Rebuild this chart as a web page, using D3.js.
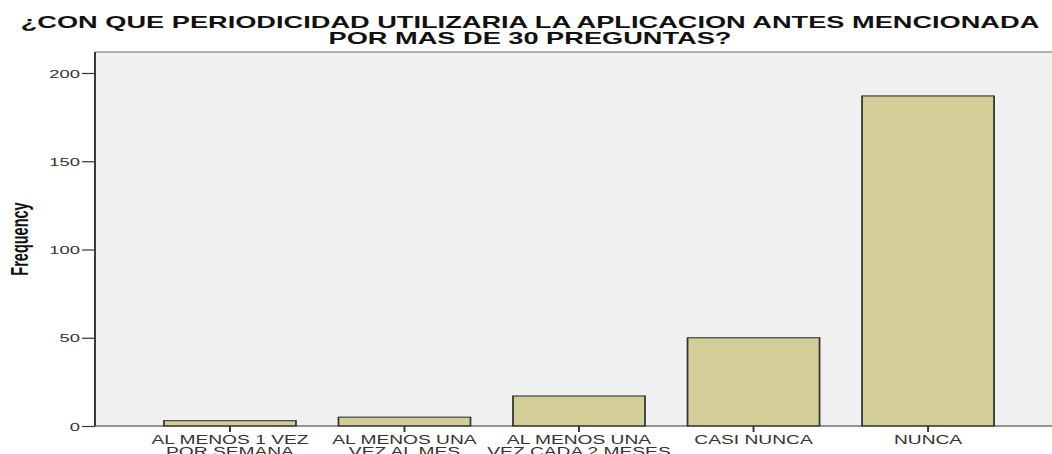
<!DOCTYPE html>
<html>
<head>
<meta charset="utf-8">
<script src="https://cdn.jsdelivr.net/npm/d3@7"></script>
<style>
    body { margin: 0; background: #fff; }
    text { font-family: "Liberation Sans", Arial, sans-serif; }
</style>
</head>
<body>
<div id="chart"></div>
<script>
// data
let categories = [
    ["AL MENOS 1 VEZ", "POR SEMANA"],
    ["AL MENOS UNA", "VEZ AL MES"],
    ["AL MENOS UNA", "VEZ CADA 2 MESES"],
    ["CASI NUNCA"],
    ["NUNCA"]
];
let frequencies = [3, 5, 17, 50, 187];
let yTicks = [0, 50, 100, 150, 200];
let titleLines = ["¿CON QUE PERIODICIDAD UTILIZARIA LA APLICACION ANTES MENCIONADA", "POR MAS DE 30 PREGUNTAS?"];

const WIDTH = 1052;
const HEIGHT = 454;
// the original picture is stretched sideways, so draw in a narrower box and stretch it
const SX = 1.6;
const W = WIDTH / SX;

let svg = d3.select("#chart").append("svg")
    .attr("width", WIDTH)
    .attr("height", HEIGHT)
    .attr("viewBox", `0 0 ${W} ${HEIGHT}`)
    .attr("preserveAspectRatio", "none");

let plot = {left: 95 / SX, right: 1063 / SX, top: 52, bottom: 426};

let x = d3.scaleBand()
    .domain(d3.range(categories.length))
    .range([plot.left, plot.right])
    .paddingInner(0.2436)
    .paddingOuter(0.395);

let y = d3.scaleLinear()
    .domain([0, 200])
    .range([426, 73]);

// plot background
svg.append("rect")
    .attr("x", plot.left)
    .attr("y", plot.top)
    .attr("width", W - plot.left + 5)
    .attr("height", plot.bottom - plot.top)
    .attr("fill", "#f0f0f0");

svg.append("line")
    .attr("x1", plot.left).attr("x2", W + 5)
    .attr("y1", plot.top).attr("y2", plot.top)
    .attr("stroke", "#9a9a9a")
    .attr("stroke-width", 1.5);

// bars
svg.selectAll(".bar")
    .data(frequencies)
    .enter()
    .append("rect")
    .attr("class", "bar")
    .attr("x", (d, i) => x(i))
    .attr("width", x.bandwidth())
    .attr("y", d => y(d))
    .attr("height", d => y(0) - y(d))
    .attr("fill", "#d3ce97")
    .attr("stroke", "#333")
    .attr("stroke-width", 1.1);

// y axis
let yAxis = d3.axisLeft(y)
    .tickValues(yTicks)
    .tickSize(13 / SX)
    .tickPadding(2 / SX);

let gy = svg.append("g")
    .attr("transform", `translate(${plot.left},0)`)
    .call(yAxis);
gy.select(".domain").remove();
gy.selectAll(".tick line").attr("stroke", "#333").attr("stroke-width", 1.2);
gy.selectAll(".tick text")
    .attr("font-size", 11.5)
    .attr("fill", "#333")
    .attr("dy", "0.36em");

svg.append("line")
    .attr("x1", plot.left).attr("x2", plot.left)
    .attr("y1", plot.top).attr("y2", plot.bottom)
    .attr("stroke", "#333")
    .attr("stroke-width", 1.2);

// x axis
let xAxis = d3.axisBottom(x)
    .tickSize(6)
    .tickFormat("");

let gx = svg.append("g")
    .attr("transform", `translate(0,${plot.bottom})`)
    .call(xAxis);
gx.select(".domain").remove();
gx.selectAll(".tick line").attr("stroke", "#333").attr("stroke-width", 1.2);

svg.append("line")
    .attr("x1", plot.left).attr("x2", W + 5)
    .attr("y1", plot.bottom).attr("y2", plot.bottom)
    .attr("stroke", "#333")
    .attr("stroke-width", 1.2);

let labels = svg.selectAll(".x-label")
    .data(categories)
    .enter()
    .append("text")
    .attr("class", "x-label")
    .attr("x", (d, i) => x(i) + x.bandwidth() / 2)
    .attr("y", 444)
    .attr("text-anchor", "middle")
    .attr("font-size", 12)
    .attr("fill", "#333");

labels.selectAll("tspan")
    .data(d => d)
    .enter()
    .append("tspan")
    .attr("x", function () { return d3.select(this.parentNode).attr("x"); })
    .attr("dy", (d, i) => i === 0 ? 0 : 12)
    .text(d => d);

// y title
svg.append("text")
    .attr("transform", `translate(${28 / SX},${239}) rotate(-90)`)
    .attr("text-anchor", "middle")
    .attr("font-size", 14.5)
    .attr("font-weight", "bold")
    .attr("fill", "#111")
    .text("Frequency");

// title
svg.selectAll(".title")
    .data(titleLines)
    .enter()
    .append("text")
    .attr("class", "title")
    .attr("x", 530 / SX)
    .attr("y", (d, i) => 28 + i * 16)
    .attr("text-anchor", "middle")
    .attr("font-size", 17)
    .attr("font-weight", "bold")
    .attr("fill", "#111")
    .text(d => d);
</script>
</body>
</html>
